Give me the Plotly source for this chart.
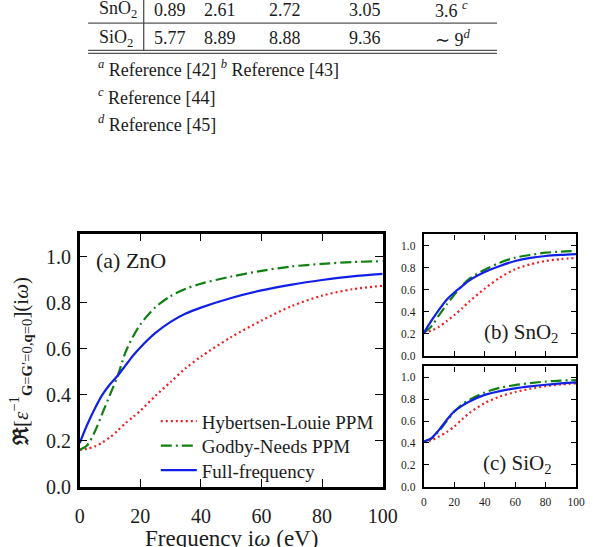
import plotly.graph_objects as go

# ---------------- data ----------------
freq = [0, 2.5, 5, 7.5, 10, 12.5, 15, 17.5, 20, 25, 30, 35, 40, 50, 60, 70, 80, 90, 100]

zno_hl = [0.160, 0.165, 0.175, 0.192, 0.215, 0.243, 0.275, 0.302, 0.330, 0.395, 0.455, 0.515, 0.565, 0.650, 0.722, 0.785, 0.830, 0.858, 0.873]
zno_gn = [0.160, 0.180, 0.240, 0.320, 0.400, 0.480, 0.580, 0.650, 0.705, 0.780, 0.828, 0.860, 0.882, 0.913, 0.938, 0.957, 0.968, 0.976, 0.980]
zno_ff = [0.190, 0.270, 0.340, 0.400, 0.445, 0.482, 0.525, 0.568, 0.605, 0.668, 0.716, 0.752, 0.778, 0.820, 0.853, 0.878, 0.898, 0.914, 0.925]

freq_s = [0, 5, 10, 15, 20, 25, 30, 40, 50, 60, 70, 80, 90, 100]
sno2_hl = [0.210, 0.230, 0.265, 0.315, 0.370, 0.430, 0.495, 0.610, 0.710, 0.785, 0.830, 0.860, 0.877, 0.888]
sno2_gn = [0.210, 0.270, 0.370, 0.465, 0.555, 0.635, 0.700, 0.780, 0.845, 0.890, 0.915, 0.935, 0.945, 0.950]
sno2_ff = [0.210, 0.320, 0.420, 0.510, 0.575, 0.630, 0.685, 0.760, 0.815, 0.860, 0.888, 0.905, 0.915, 0.922]

sio2_hl = [0.410, 0.425, 0.460, 0.500, 0.550, 0.615, 0.675, 0.765, 0.825, 0.866, 0.896, 0.920, 0.935, 0.946]
sio2_gn = [0.414, 0.440, 0.510, 0.600, 0.685, 0.750, 0.795, 0.862, 0.905, 0.930, 0.948, 0.962, 0.970, 0.976]
sio2_ff = [0.414, 0.445, 0.520, 0.610, 0.690, 0.740, 0.780, 0.840, 0.875, 0.900, 0.918, 0.933, 0.945, 0.955]

series_names = ["Hybertsen-Louie PPM", "Godby-Needs PPM", "Full-frequency"]
panel_labels = ["(a) ZnO", "(b) SnO<sub>2</sub>", "(c) SiO<sub>2</sub>"]
yticks = [0.0, 0.2, 0.4, 0.6, 0.8, 1.0]
xticks = [0, 20, 40, 60, 80, 100]

# table fragment above the figure
table_rows = ["SnO<sub>2</sub>", "SiO<sub>2</sub>"]
table_vals = [["0.89", "2.61", "2.72", "3.05", "3.6 <sup><i>c</i></sup>"],
              ["5.77", "8.89", "8.88", "9.36", "∼ 9<sup><i>d</i></sup>"]]
footnotes = ["<sup><i>a</i></sup> Reference [42] <sup><i>b</i></sup> Reference [43]",
             "<sup><i>c</i></sup> Reference [44]",
             "<sup><i>d</i></sup> Reference [45]"]

# ---------------- styling ----------------
W, H = 600, 547
SERIF = "Liberation Serif"
TXT = "#1c1c1c"
colors = ["#f02020", "#108010", "#1020e8"]
dashes = ["2px,3px", "11px,4px,2px,4px", "solid"]
legend_ids = ["legend", "legend2", "legend3"]


def px(x):
    return x / W


def py(y):
    return 1 - y / H


fig = go.Figure()

panels = [
    (freq, [zno_hl, zno_gn, zno_ff], "x", "y", True),
    (freq_s, [sno2_hl, sno2_gn, sno2_ff], "x2", "y2", False),
    (freq_s, [sio2_hl, sio2_gn, sio2_ff], "x3", "y3", False),
]
for xs, ys_list, xa, ya, leg in panels:
    for i, ys in enumerate(ys_list):
        fig.add_trace(go.Scatter(
            x=xs, y=ys, mode="lines", name=series_names[i],
            line=dict(color=colors[i], width=2.2, dash=dashes[i], shape="spline", smoothing=0.8),
            xaxis=xa, yaxis=ya, showlegend=leg, legend=legend_ids[i], hoverinfo="skip"))

main_dom_x = [px(77.3), px(390.7)]
main_dom_y = [py(496.7), py(238.3)]
small_dom_x = [px(433.3), px(590.7)]
top_dom_y = [py(363.3), py(239.3)]
bot_dom_y = [py(496.7), py(374.0)]


def xax(domain, anchor, show, fsize, tlen, lw, standoff):
    return dict(domain=domain, anchor=anchor, range=[0, 100], tickvals=xticks,
                ticks="inside", ticklen=tlen, tickwidth=1.4, tickcolor="black",
                mirror="allticks", showline=True, linewidth=lw, linecolor="black",
                showgrid=False, zeroline=False, showticklabels=show,
                ticklabelstandoff=standoff,
                tickfont=dict(family=SERIF, size=fsize, color=TXT))


def yax(domain, anchor, fsize, tlen, lw, standoff):
    return dict(domain=domain, anchor=anchor, range=[0, 1.1], tickvals=yticks,
                tickformat=".1f", ticks="inside", ticklen=tlen, tickwidth=1.4,
                tickcolor="black", mirror="allticks", showline=True, linewidth=lw,
                linecolor="black", showgrid=False, zeroline=False,
                ticklabelstandoff=standoff,
                tickfont=dict(family=SERIF, size=fsize, color=TXT))


leg_common = dict(xanchor="left", yanchor="middle", bgcolor="rgba(0,0,0,0)", borderwidth=0,
                  font=dict(family=SERIF, size=19, color=TXT), itemwidth=36)
fig.update_layout(
    width=W, height=H, margin=dict(l=0, r=0, t=0, b=0),
    paper_bgcolor="white", plot_bgcolor="white",
    xaxis=xax(main_dom_x, "y", True, 20, 8, 2.5, 10),
    yaxis=yax(main_dom_y, "x", 20, 8, 2.5, 2),
    xaxis2=xax(small_dom_x, "y2", False, 11.5, 5, 2.2, 2),
    yaxis2=yax(top_dom_y, "x2", 11.5, 5, 2.2, 4),
    xaxis3=xax(small_dom_x, "y3", True, 11.5, 5, 2.2, 3),
    yaxis3=yax(bot_dom_y, "x3", 11.5, 5, 2.2, 4),
    legend=dict(x=px(156), y=py(430), **leg_common),
    legend2=dict(x=px(156), y=py(455), **leg_common),
    legend3=dict(x=px(156), y=py(480), **leg_common),
)

ann = []
# panel labels
ann.append(dict(text=panel_labels[0], x=px(92), y=py(266), xref="paper", yref="paper",
                xanchor="left", yanchor="middle", showarrow=False,
                font=dict(family=SERIF, size=22, color=TXT)))
ann.append(dict(text=panel_labels[1], x=px(574), y=py(340), xref="paper", yref="paper",
                xanchor="right", yanchor="middle", showarrow=False,
                font=dict(family=SERIF, size=21, color=TXT)))
ann.append(dict(text=panel_labels[2], x=px(568), y=py(474), xref="paper", yref="paper",
                xanchor="right", yanchor="middle", showarrow=False,
                font=dict(family=SERIF, size=21, color=TXT)))
# axis titles
ann.append(dict(text="Frequency i<i>ω</i> (eV)", x=px(234), y=py(534.5), xref="paper", yref="paper",
                xanchor="center", yanchor="top", showarrow=False,
                font=dict(family=SERIF, size=23, color=TXT)))
ann.append(dict(text="<b>ℜ</b>[<i>ε</i><sup>−1</sup><sub><b>G</b>=<b>G</b>′=0,<b>q</b>=0</sub>](i<i>ω</i>)",
                x=px(16), y=py(369), xref="paper", yref="paper", textangle=-90,
                xanchor="center", yanchor="middle", showarrow=False,
                font=dict(family=SERIF, size=21, color=TXT)))

# table fragment
row_y = [10.0, 39.0]
col_x = [171, 222, 290, 372]
for r, name in enumerate(table_rows):
    ann.append(dict(text=name, x=px(95), y=py(row_y[r]), xref="paper", yref="paper",
                    xanchor="left", yanchor="middle", showarrow=False,
                    font=dict(family=SERIF, size=18, color=TXT)))
    for c, v in enumerate(table_vals[r]):
        if c < 4:
            ann.append(dict(text=v, x=px(col_x[c]), y=py(row_y[r]), xref="paper", yref="paper",
                            xanchor="center", yanchor="middle", showarrow=False,
                            font=dict(family=SERIF, size=18, color=TXT)))
        else:
            ann.append(dict(text=v, x=px(443), y=py(row_y[r]), xref="paper", yref="paper",
                            xanchor="left", yanchor="middle", showarrow=False,
                            font=dict(family=SERIF, size=18, color=TXT)))
foot_y = [70, 98, 126]
for i, t in enumerate(footnotes):
    ann.append(dict(text=t, x=px(94), y=py(foot_y[i]), xref="paper", yref="paper",
                    xanchor="left", yanchor="middle", showarrow=False,
                    font=dict(family=SERIF, size=18, color=TXT)))

shapes = [
    dict(type="line", xref="paper", yref="paper", x0=px(86), x1=px(509), y0=py(23.5), y1=py(23.5),
         line=dict(color="#555", width=1.3)),
    dict(type="line", xref="paper", yref="paper", x0=px(86), x1=px(509), y0=py(51.5), y1=py(51.5),
         line=dict(color="#555", width=1.3)),
    dict(type="line", xref="paper", yref="paper", x0=px(86), x1=px(509), y0=py(54.5), y1=py(54.5),
         line=dict(color="#555", width=1.3)),
    dict(type="line", xref="paper", yref="paper", x0=px(143.5), x1=px(143.5), y0=py(0), y1=py(51.5),
         line=dict(color="#444", width=1.2)),
]

fig.update_layout(annotations=ann, shapes=shapes)
fig.write_html("out.html")
